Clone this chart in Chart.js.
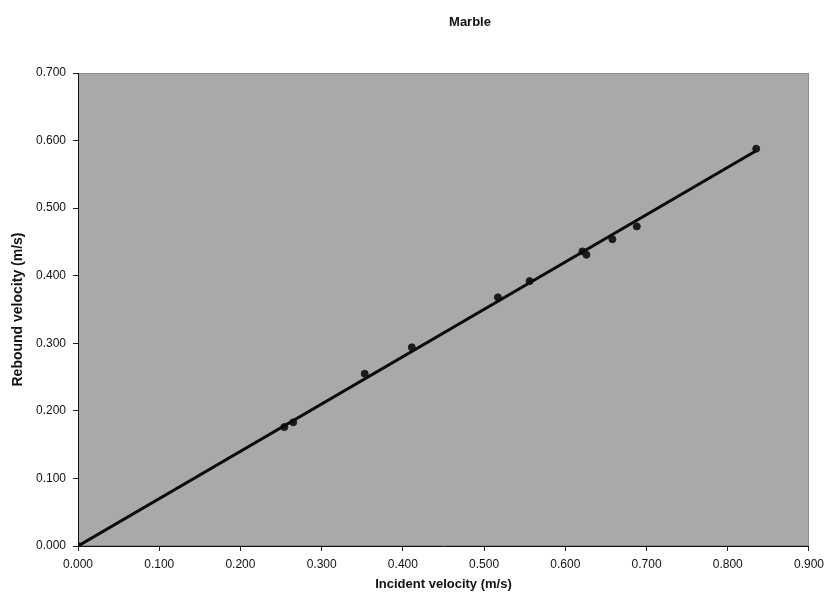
<!DOCTYPE html>
<html>
<head>
<meta charset="utf-8">
<title>Marble</title>
<script src="https://cdn.jsdelivr.net/npm/chart.js@4.4.1/dist/chart.umd.min.js"></script>
<style>
  body { margin: 0; background: #ffffff; }
  #wrap { width: 830px; height: 602px; }
</style>
</head>
<body>
<div id="wrap"><canvas id="chart" width="830" height="602"></canvas></div>
<script>
const incident = [0.000, 0.254, 0.265, 0.353, 0.411, 0.517, 0.556, 0.621, 0.626, 0.658, 0.688, 0.835];
const rebound  = [0.000, 0.176, 0.183, 0.255, 0.294, 0.368, 0.392, 0.436, 0.431, 0.454, 0.473, 0.588];

// trendline end points
const trendX = [0.000, 0.835];
const trendY = [0.000, 0.585];

const xTicks = [0, 0.1, 0.2, 0.3, 0.4, 0.5, 0.6, 0.7, 0.8, 0.9];
const yTicks = [0, 0.1, 0.2, 0.3, 0.4, 0.5, 0.6, 0.7];

const FONT = '"Liberation Sans", Arial, sans-serif';

const plotBg = {
  id: 'plotBg',
  beforeDraw(chart) {
    const a = chart.chartArea;
    const c = chart.ctx;
    c.save();
    c.fillStyle = '#a9a9a9';
    c.fillRect(a.left, a.top, a.right - a.left, a.bottom - a.top);
    c.strokeStyle = '#8c8c8c';
    c.lineWidth = 1;
    c.strokeRect(a.left + 0.5, a.top + 0.5, a.right - a.left - 1, a.bottom - a.top - 1);
    c.restore();
  }
};

const topTitle = {
  id: 'topTitle',
  afterDraw(chart) {
    const c = chart.ctx;
    c.save();
    c.font = 'bold 13px ' + FONT;
    c.fillStyle = '#111';
    c.textAlign = 'center';
    c.textBaseline = 'middle';
    c.fillText('Marble', 470, 22);
    c.restore();
  }
};

const points = incident.map((x, i) => ({ x: x, y: rebound[i] }));
const trend = trendX.map((x, i) => ({ x: x, y: trendY[i] }));

new Chart(document.getElementById('chart'), {
  type: 'scatter',
  data: {
    datasets: [
      {
        label: 'Trend',
        data: trend,
        showLine: true,
        borderColor: '#0a0a0a',
        borderWidth: 3,
        pointRadius: 0,
        fill: false
      },
      {
        label: 'Marble',
        data: points,
        backgroundColor: '#1c1c1c',
        borderColor: '#1c1c1c',
        pointRadius: 3.5,
        pointStyle: 'circle'
      }
    ]
  },
  options: {
    responsive: false,
    animation: false,
    layout: { padding: { top: 73, right: 20, left: 0, bottom: 0 } },
    plugins: {
      legend: { display: false },
      tooltip: { enabled: false }
    },
    scales: {
      x: {
        type: 'linear',
        min: 0,
        max: 0.9,
        afterFit(s) { s.height = 56; },
        afterBuildTicks(s) { s.ticks = xTicks.map(v => ({ value: v })); },
        ticks: {
          callback: v => Number(v).toFixed(3),
          color: '#111',
          font: { family: FONT, size: 12 },
          padding: 6,
          maxRotation: 0
        },
        grid: { drawOnChartArea: false, drawTicks: true, tickLength: 5, tickColor: '#222' },
        border: { display: true, color: '#111', width: 1 },
        title: {
          display: true,
          text: 'Incident velocity (m/s)',
          color: '#111',
          font: { family: FONT, size: 13, weight: 'bold' },
          padding: { top: 0, bottom: 10 }
        }
      },
      y: {
        type: 'linear',
        min: 0,
        max: 0.7,
        afterFit(s) { s.width = 78; },
        afterBuildTicks(s) { s.ticks = yTicks.map(v => ({ value: v })); },
        ticks: {
          callback: v => Number(v).toFixed(3),
          color: '#111',
          font: { family: FONT, size: 12 },
          padding: 7
        },
        grid: { drawOnChartArea: false, drawTicks: true, tickLength: 5, tickColor: '#222' },
        border: { display: true, color: '#111', width: 1 },
        title: {
          display: true,
          text: 'Rebound velocity (m/s)',
          color: '#111',
          font: { family: FONT, size: 14, weight: 'bold' },
          padding: { top: 10, bottom: 0 }
        }
      }
    }
  },
  plugins: [plotBg, topTitle]
});
</script>
</body>
</html>
